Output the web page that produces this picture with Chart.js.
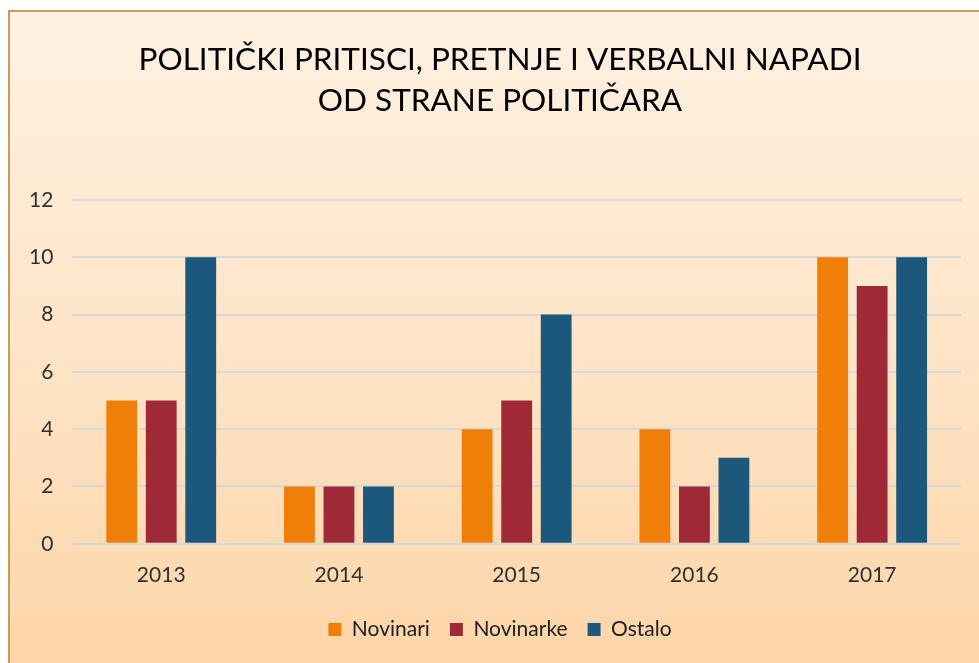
<!DOCTYPE html>
<html>
<head>
<meta charset="utf-8">
<script src="https://cdn.jsdelivr.net/npm/chart.js@4/dist/chart.umd.min.js"></script>
<style>
  html, body { margin: 0; padding: 0; background: #ffffff; width: 979px; height: 663px; overflow: hidden; position: relative; }
  #frame {
    position: absolute; left: 8px; top: 10px; width: 990px; height: 653px;
    border-left: 2px solid #C89B5A; border-top: 2px solid #C89B5A;
    background: linear-gradient(to bottom, #FFF1E2 0%, #FEE5C8 50%, #FDD5A8 100%);
  }
  #wrap { position: absolute; left: 0; top: 0; width: 980px; height: 651px; }
</style>
</head>
<body>
<div id="frame"><div id="wrap"><canvas id="c" width="980" height="651"></canvas></div></div>
<script>
const titleLines = ["POLITIČKI PRITISCI, PRETNJE I VERBALNI NAPADI", "OD STRANE POLITIČARA"];
const categories = ["2013", "2014", "2015", "2016", "2017"];
const seriesNames = ["Novinari", "Novinarke", "Ostalo"];
const novinari = [5, 2, 4, 4, 10];
const novinarke = [5, 2, 5, 2, 9];
const ostalo = [10, 2, 8, 3, 10];
const colors = ["#F07F09", "#9F2936", "#1B587C"];
const yTicks = { min: 0, max: 12, step: 2 };

const FONT = "Lato, 'Open Sans', sans-serif";

new Chart(document.getElementById('c'), {
  type: 'bar',
  data: {
    labels: categories,
    datasets: [novinari, novinarke, ostalo].map((d, i) => ({
      label: seriesNames[i],
      data: d,
      backgroundColor: colors[i],
      borderWidth: 0,
      categoryPercentage: 0.667,
      barPercentage: 0.78
    }))
  },
  options: {
    responsive: false,
    animation: false,
    devicePixelRatio: 1,
    layout: { padding: { left: 0, right: 0, top: 0, bottom: 13 } },
    plugins: {
      title: {
        display: true,
        text: titleLines,
        color: '#000000',
        font: { family: FONT, size: 31.5, weight: 'normal', lineHeight: 1.3 },
        padding: { top: 27, bottom: 79 }
      },
      legend: {
        position: 'bottom',
        labels: {
          color: '#202020',
          font: { family: FONT, size: 21 },
          boxWidth: 13, boxHeight: 13,
          padding: 20
        }
      },
      tooltip: { enabled: false }
    },
    scales: {
      x: {
        grid: { display: false },
        border: { display: false },
        ticks: { color: '#303030', font: { family: FONT, size: 21 }, padding: 11 }
      },
      y: {
        min: yTicks.min, max: yTicks.max,
        grid: { color: '#D8D8D8', lineWidth: 2, drawTicks: false },
        border: { display: false },
        ticks: { stepSize: yTicks.step, color: '#303030', font: { family: FONT, size: 21 }, padding: 19 }
      },
      yR: {
        position: 'right',
        display: true,
        grid: { display: false },
        border: { display: false },
        ticks: { display: false },
        afterFit: (s) => { s.width = 29; }
      }
    }
  }
});
</script>
</body>
</html>
